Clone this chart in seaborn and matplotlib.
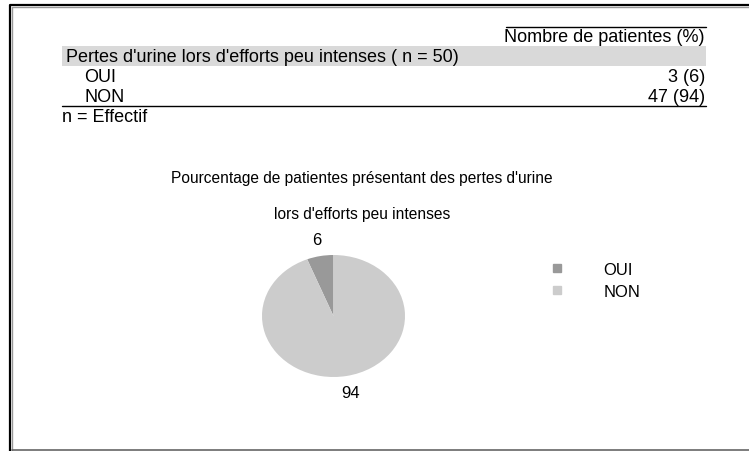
import matplotlib
matplotlib.use("Agg")
import matplotlib.pyplot as plt
import seaborn as sns
from matplotlib.patches import Rectangle
from matplotlib.lines import Line2D

# donnees
categories = ["OUI", "NON"]
effectifs = [3, 47]
pourcentages = [6, 94]
n_total = 50
titre_table = "Pertes d'urine lors d'efforts peu intenses ( n = {})".format(n_total)
entete = "Nombre de patientes (%)"
titre_pie = "Pourcentage de patientes présentant des pertes d'urine\n\nlors d'efforts peu intenses"
couleurs = ["#999999", "#cccccc"]

sns.set_theme(style="white")
plt.rcParams['font.family'] = ['Liberation Sans', 'DejaVu Sans']
plt.rcParams['text.color'] = 'black'
fs = 13

W, H = 749, 452
fig = plt.figure(figsize=(W / 100, H / 100), dpi=100)

# calque en pixels pour le tableau et le cadre
bg = fig.add_axes([0, 0, 1, 1])
bg.set_xlim(0, W)
bg.set_ylim(H, 0)
bg.axis("off")

# cadre
bg.plot([9.5, 9.5, W], [H, 5.5, 5.5], color="black", lw=1.6)
bg.plot([12, 12, W], [H, 8, 8], color="#999999", lw=1)
bg.plot([12, W], [450.5, 450.5], color="#666666", lw=1.2)

# tableau
bg.plot([506, 706], [28, 28], color="black", lw=1)
bg.text(705, 38, entete, ha="right", va="center", fontsize=fs)
bg.add_patch(Rectangle((62, 47), 644, 20, fc="#d9d9d9", ec="none"))
bg.text(66, 57, titre_table, ha="left", va="center", fontsize=fs)
for i, cat in enumerate(categories):
    y = 77 + 20 * i
    bg.text(84, y, cat, ha="left", va="center", fontsize=fs)
    bg.text(705, y, "{} ({})".format(effectifs[i], pourcentages[i]), ha="right", va="center", fontsize=fs)
bg.plot([62, 706], [107, 107], color="black", lw=1)
bg.text(62, 118, "n = Effectif", ha="left", va="center", fontsize=fs)

bg.text(362, 197, titre_pie, ha="center", va="center", fontsize=11.2, linespacing=1.25)

# camembert
ax = fig.add_axes([262 / W, 1 - 378 / H, 143 / W, 122 / H])
ax.pie(pourcentages, colors=couleurs, startangle=90, counterclock=True,
       autopct=lambda p: "{:.0f}".format(p), pctdistance=1.27,
       wedgeprops={"linewidth": 0, "edgecolor": "none"},
       textprops={"fontsize": 12, "color": "black"})
ax.set_aspect("auto")
ax.set_xlim(-1, 1)
ax.set_ylim(-1, 1)

handles = [Line2D([], [], marker="s", ls="none", color=c, markersize=5.5) for c in couleurs]
fig.legend(handles, categories, loc="upper left", bbox_to_anchor=(540 / W, 1 - 263 / H),
           frameon=False, fontsize=12, handletextpad=1.8, labelspacing=0.42,
           borderaxespad=0, borderpad=0)

fig.savefig("out.png", dpi=100)
